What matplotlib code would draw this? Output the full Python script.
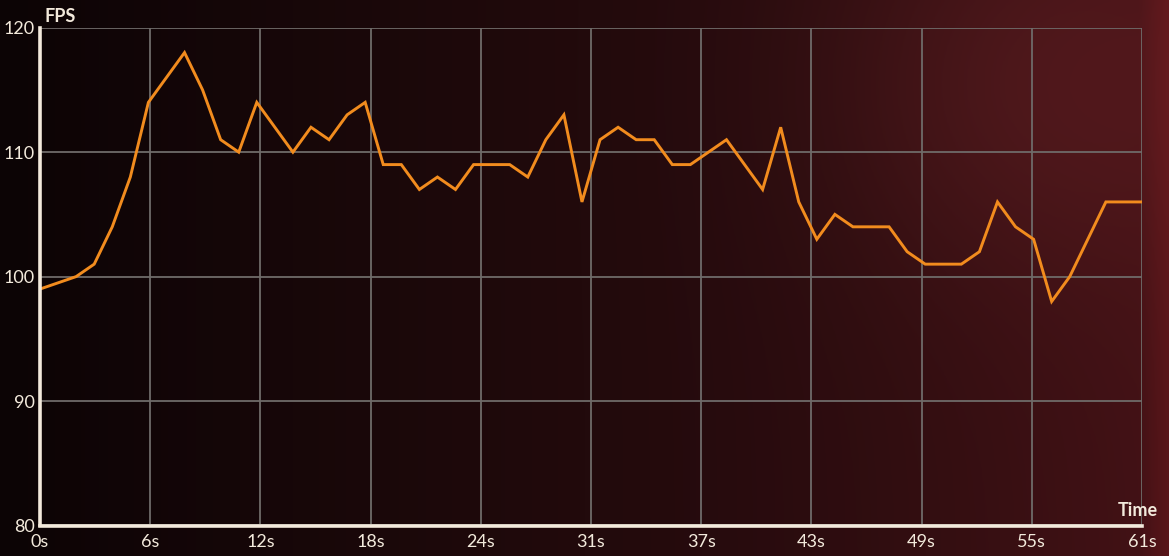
import numpy as np
import matplotlib
matplotlib.use("Agg")
import matplotlib.pyplot as plt
from matplotlib.colors import to_rgb

# ---- data ----
seconds = list(range(0, 62))
fps = [99, 99.5, 100, 101, 104, 108, 114, 116, 118, 115,
       111, 110, 114, 112, 110, 112, 111, 113, 114, 109,
       109, 107, 108, 107, 109, 109, 109, 108, 111, 113,
       106, 111, 112, 111, 111, 109, 109, 110, 111, 109,
       107, 112, 106, 103, 105, 104, 104, 104, 102, 101,
       101, 101, 102, 106, 104, 103, 98, 100, 103, 106,
       106, 106]
tick_positions = [61 * k / 10 for k in range(11)]
tick_labels = ["0s", "6s", "12s", "18s", "24s", "31s", "37s", "43s", "49s", "55s", "61s"]
y_ticks = [80, 90, 100, 110, 120]

W, H = 1169, 556
fig = plt.figure(figsize=(W / 100, H / 100), dpi=100)

# ---- background gradient ----
bg = fig.add_axes([0, 0, 1, 1], zorder=-10)
bg.set_axis_off()
nx, ny = 400, 200
xx, yy = np.meshgrid(np.linspace(0, 1, nx), np.linspace(0, 1, ny))
c_left = np.array(to_rgb("#0c0405"))
c_mid = np.array(to_rgb("#220a0c"))
c_right = np.array(to_rgb("#441216"))
t = xx
img = np.where(t[..., None] < 0.5,
               c_left + (c_mid - c_left) * (t[..., None] / 0.5),
               c_mid + (c_right - c_mid) * ((t[..., None] - 0.5) / 0.5) ** 1.3)
# glow in upper right
glow = np.exp(-(((xx - 0.88) / 0.18) ** 2 + ((yy - 0.15) / 0.35) ** 2))
img = img + glow[..., None] * np.array(to_rgb("#140808"))
# red right edge
edge = np.clip((xx - 0.975) / 0.025, 0, 1)
img = img + edge[..., None] * np.array(to_rgb("#140303"))
img = np.clip(img, 0, 1)
bg.imshow(img, aspect="auto", extent=[0, 1, 0, 1], origin="upper")
bg.set_xlim(0, 1)
bg.set_ylim(0, 1)

# ---- main axes ----
left, right = 40 / W, 1142 / W
bottom, top = (H - 525.5) / H, (H - 27.7) / H
ax = fig.add_axes([left, bottom, right - left, top - bottom])
ax.patch.set_alpha(0)

ax.plot(seconds, fps, color="#f28c1e", lw=2.1, solid_joinstyle="miter", zorder=3)

ax.set_xlim(0, 61)
ax.set_ylim(80, 120)
ax.set_xticks(tick_positions)
ax.set_xticklabels(tick_labels)
ax.set_yticks(y_ticks)
ax.grid(True, color="#6f6b69", lw=1.3, zorder=1)
ax.set_axisbelow(True)

for s in ["top", "right"]:
    ax.spines[s].set_visible(False)
for s in ["left", "bottom"]:
    ax.spines[s].set_color("#f3eadc")
    ax.spines[s].set_linewidth(2.6)
    ax.spines[s].set_zorder(4)

txt_color = "#f3eadc"
ax.tick_params(axis="both", length=0, colors=txt_color, labelsize=13)
ax.tick_params(axis="x", pad=6)
ax.tick_params(axis="y", pad=4)
for lab in ax.get_xticklabels() + ax.get_yticklabels():
    lab.set_fontfamily("Lato")

fig.text(45 / W, 1 - 16 / H, "FPS", color=txt_color, fontsize=13, fontweight="bold",
         fontfamily="Lato", ha="left", va="center")
fig.text(1158 / W, 1 - 511 / H, "Time", color=txt_color, fontsize=13, fontweight="bold",
         fontfamily="Lato", ha="right", va="center")

fig.savefig("out.png", dpi=100, facecolor="#0c0405")
